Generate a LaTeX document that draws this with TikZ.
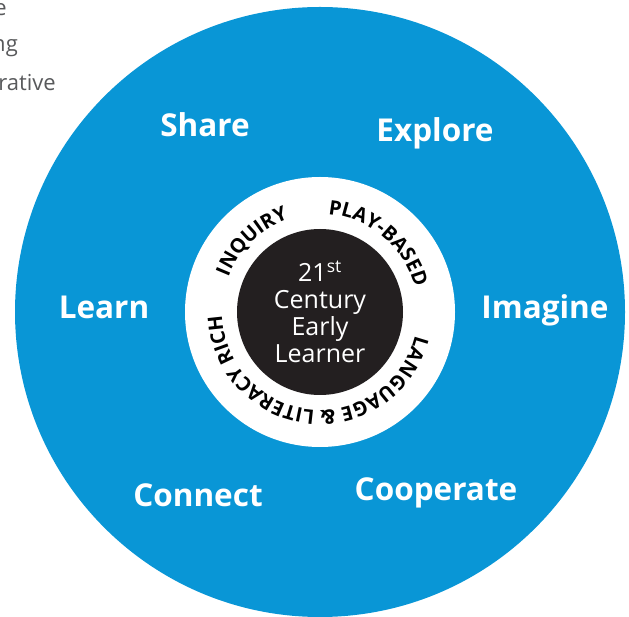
\documentclass[tikz,border=0pt]{standalone}
\usepackage{fontspec}
\setmainfont{Open Sans}
\usetikzlibrary{decorations.text}

\definecolor{outerblue}{RGB}{9,150,214}
\definecolor{coreblack}{RGB}{35,31,32}
\definecolor{notegray}{RGB}{88,89,91}
\newcommand\ringfont{\fontsize{20}{20}\selectfont\bfseries}

\begin{document}
\begin{tikzpicture}[x=1pt,y=1pt,
    word/.style={text=white, font=\fontsize{31.5}{36}\selectfont\bfseries, anchor=base},
    note/.style={text=notegray, font=\fontsize{22}{26}\selectfont, anchor=base east, inner sep=0pt},
    ringtext/.style={decorate, decoration={text along path, text align=center, text={#1}}}
    ]
    \useasboundingbox (0,0) rectangle (629,616);
    \clip (0,0) rectangle (629,616);

    % leftover of the text beside
    \node[note] (note1) at (7,600) {e};
    \node[note] (note2) at (18,564) {ng};
    \node[note] (note3) at (56,525) {rative};

    \node[circle, fill=outerblue, minimum size=610pt, inner sep=0pt] (outer) at (320,304) {};
    \node[circle, fill=white, minimum size=270pt, inner sep=0pt] (ring) at (outer.center) {};
    \node[circle, fill=coreblack, minimum size=166pt, inner sep=0pt, text=white, align=center,
        font=\fontsize{25}{27}\selectfont] (core) at (outer.center) {21\textsuperscript{st}\\Century\\Early\\Learner};

    \path[ringtext={|\ringfont|INQUIRY}] (outer.center) ++(170:98) arc[start angle=170, end angle=98, radius=98];
    \path[ringtext={|\ringfont|PLAY-BASED}] (outer.center) ++(100:98) arc[start angle=100, end angle=0, radius=98];
    \path[ringtext={|\ringfont|LANGUAGE {\&} LITERACY RICH}] (outer.center) ++(0:98) arc[start angle=0, end angle=-192, radius=98];

    \node[word] (share) at (205,479) {Share};
    \node[word] (explore) at (435,474) {Explore};
    \node[word] (learn) at (104,297) {Learn};
    \node[word] (imagine) at (545,297) {Imagine};
    \node[word] (connect) at (198,110) {Connect};
    \node[word] (cooperate) at (436,116) {Cooperate};
    %
\end{tikzpicture}
\end{document}
